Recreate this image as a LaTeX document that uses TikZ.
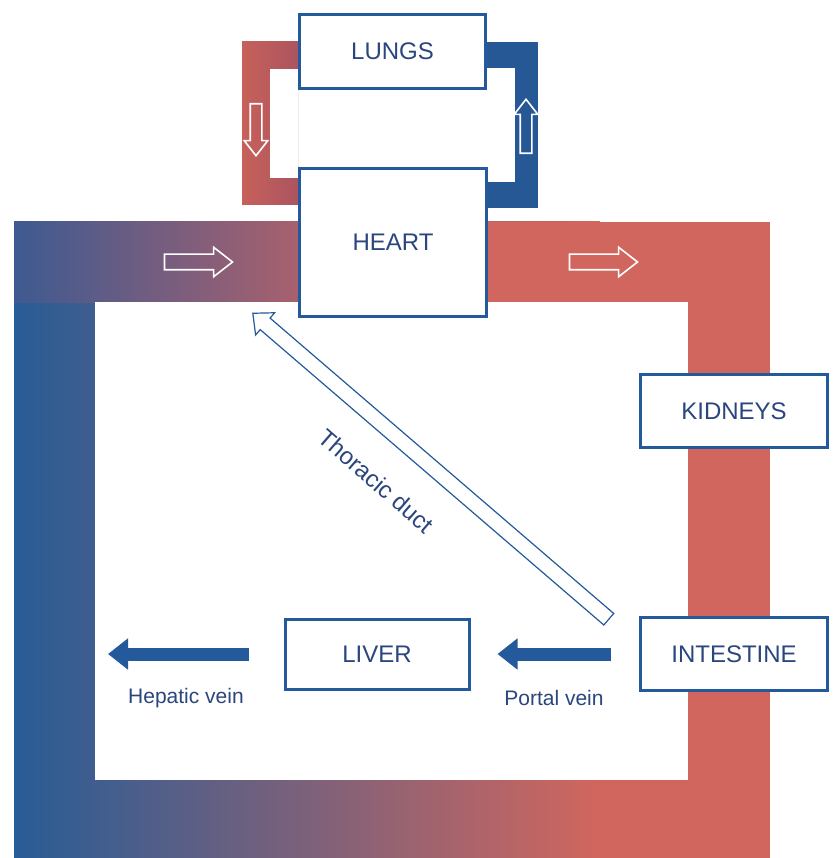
\documentclass[tikz,border=0pt]{standalone}
\usepackage{fontspec}
\setmainfont{Liberation Sans}
\usepackage{tikz}
\usetikzlibrary{shapes,arrows,arrows.meta,positioning,calc,shadows}
\usepackage{xcolor}

\definecolor{bandblue}{RGB}{40,92,150}
\definecolor{bandred}{RGB}{209,102,94}
\definecolor{lungred}{RGB}{172,84,96}
\definecolor{lungblue}{RGB}{38,88,150}
\definecolor{boxblue}{RGB}{36,90,155}
\definecolor{textblue}{RGB}{42,70,125}

\begin{document}
\begin{tikzpicture}[x=1pt, y=-1pt,
    organ/.style={draw=boxblue, line width=3pt, fill=white, rectangle, text=textblue,
        font=\fontsize{24}{28}\selectfont, inner sep=0pt,
        drop shadow={shadow xshift=1.5pt, shadow yshift=-1.5pt, opacity=.3, fill=black!60}},
    bandarrow/.style={single arrow, draw=white, line width=1.6pt, inner xsep=0pt, inner ysep=7pt,
        minimum width=28pt, single arrow head extend=7pt, single arrow tip angle=76},
    lungarrow/.style={bandarrow, inner ysep=5pt, minimum width=22pt, single arrow head extend=6pt},
    vein/.style={boxblue, line width=13pt, -{Triangle[length=20pt,width=30pt]}},
    veinlabel/.style={text=textblue, font=\fontsize{21}{25}\selectfont},
    duct/.style={single arrow, draw=boxblue, fill=white, line width=1.2pt, inner xsep=0pt, inner ysep=7pt,
        minimum width=28pt, single arrow head extend=7pt, single arrow tip angle=84}]
    \useasboundingbox (0,0) rectangle (839,858);

    \shade[left color=bandblue, right color=bandred] (14,222) rectangle (600,858);
    \fill[bandred] (592,222) rectangle (770,858);
    \fill[bandred] (488,222) rectangle (770,302);
    \shade[left color={rgb,255:red,62;green,90;blue,145}, right color={rgb,255:red,168;green,96;blue,110}] (14,222) rectangle (298,302);
    \fill[white] (95,302) rectangle (688,780);

    \shade[left color=bandred!95!black, right color=lungred] (242,42) rectangle (298,205);
    \fill[white] (270,69) rectangle (298,178);
    \fill[lungblue] (487,42) rectangle (538,208);
    \fill[white] (487,68) rectangle (515,182);

    \node[bandarrow, minimum height=68pt] (toheart) at (193.5,262) {};
    \node[bandarrow, minimum height=68pt] (fromheart) at (598.5,262) {};
    \node[lungarrow, minimum height=52pt, rotate=-90] (tolungs) at (256,126) {};
    \node[lungarrow, minimum height=54pt, rotate=90] (fromlungs) at (526,130) {};

    \node[organ, minimum width=186pt, minimum height=74pt] (lungs) at (392.5,51.5) {LUNGS};
    \node[organ, minimum width=187pt, minimum height=148pt] (heart) at (393,242.5) {HEART};
    \node[organ, minimum width=187pt, minimum height=73pt] (kidneys) at (734,411) {KIDNEYS};
    \node[organ, minimum width=187pt, minimum height=73pt] (intestine) at (734,654) {INTESTINE};
    \node[organ, minimum width=184pt, minimum height=70pt] (liver) at (377,654) {LIVER};

    \coordinate (hepaticend) at (108,654);
    \draw[vein, shorten <=28pt, shorten >=27pt] (intestine.west) -- (liver.east);
    \draw[vein, shorten <=35pt] (liver.west) -- (hepaticend);
    \node[veinlabel] (portal) at (554,698) {Portal vein};
    \node[veinlabel] (hepatic) at (186,698) {Hepatic vein};

    \coordinate (ductstart) at (612,622);
    \coordinate (ductend) at (256,316);
    \path let \p1=($(ductend)-(ductstart)$), \n1={atan2(\y1,\x1)}, \n2={veclen(\x1,\y1)} in
        node[duct, rotate=\n1, minimum height=\n2] (thoracic) at ($(ductstart)!0.5!(ductend)$) {};
    \node[text=textblue, font=\fontsize{24}{28}\selectfont, rotate=-41] (ductlabel) at (376,481) {Thoracic duct};
\end{tikzpicture}
\end{document}
